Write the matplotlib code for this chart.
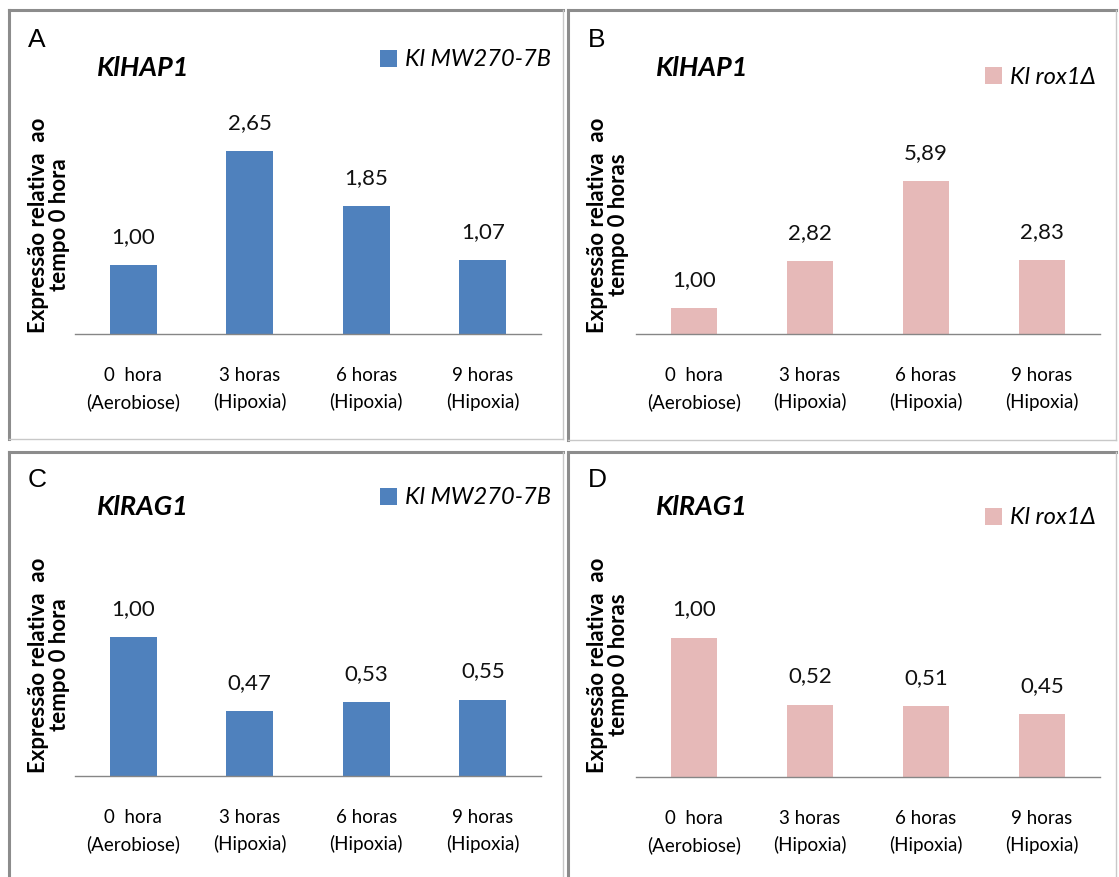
import matplotlib
matplotlib.use("Agg")
import matplotlib.pyplot as plt
from matplotlib.lines import Line2D

W, H = 1119, 877

categories = ["0  hora\n(Aerobiose)", "3 horas\n(Hipoxia)", "6 horas\n(Hipoxia)", "9 horas\n(Hipoxia)"]
hap1_wt = [1.00, 2.65, 1.85, 1.07]
hap1_rox = [1.00, 2.82, 5.89, 2.83]
rag1_wt = [1.00, 0.47, 0.53, 0.55]
rag1_rox = [1.00, 0.52, 0.51, 0.45]

letters = ["A", "B", "C", "D"]
genes = ["KlHAP1", "KlHAP1", "KlRAG1", "KlRAG1"]
strains = ["Kl MW270-7B", "Kl rox1Δ", "Kl MW270-7B", "Kl rox1Δ"]
ylabels = ["Expressão relativa  ao\ntempo 0 hora", "Expressão relativa  ao\ntempo 0 horas",
           "Expressão relativa  ao\ntempo 0 hora", "Expressão relativa  ao\ntempo 0 horas"]
blue = "#4F81BD"
pink = "#E6B9B8"

FONT = "Lato"
fig = plt.figure(figsize=(W / 100, H / 100), dpi=100)

def fx(x):
    return x / W

def fy(y):
    return 1 - y / H

# panel frames (left, top, right, bottom) in px
frames = [(9, 10, 563, 439), (568, 10, 1116, 440), (9, 452, 563, 880), (568, 452, 1116, 880)]
for (l, t, r, b) in frames:
    fig.add_artist(Line2D([fx(l), fx(l)], [fy(t), fy(b)], color="#8c8c8c", lw=2.2, transform=fig.transFigure))
    fig.add_artist(Line2D([fx(l), fx(r)], [fy(t), fy(t)], color="#8c8c8c", lw=2.2, transform=fig.transFigure))
    fig.add_artist(Line2D([fx(r), fx(r)], [fy(t), fy(b)], color="#c8c8c8", lw=1.0, transform=fig.transFigure))
    fig.add_artist(Line2D([fx(l), fx(r)], [fy(b), fy(b)], color="#c8c8c8", lw=1.0, transform=fig.transFigure))

panels = [
    dict(data=hap1_wt, color=blue, ax=(75, 541, 334, 100), ymax=3.39,
         letter=(28, 40), gene=(97, 68), leg=(380, 60), ylab=(49, 225)),
    dict(data=hap1_rox, color=pink, ax=(636, 1100, 334, 100), ymax=9.0,
         letter=(588, 40), gene=(656, 68), leg=(985, 77), ylab=(608, 225)),
    dict(data=rag1_wt, color=blue, ax=(75, 541, 776, 540), ymax=1.70,
         letter=(28, 480), gene=(97, 507), leg=(380, 498), ylab=(49, 665)),
    dict(data=rag1_rox, color=pink, ax=(636, 1100, 777, 540), ymax=1.70,
         letter=(588, 480), gene=(656, 507), leg=(985, 518), ylab=(608, 665)),
]

for i, p in enumerate(panels):
    x0, x1, yb, yt = p["ax"]
    ax = fig.add_axes([fx(x0), fy(yb), fx(x1) - fx(x0), (yb - yt) / H])
    xs = list(range(len(categories)))
    bars = ax.bar(xs, p["data"], width=0.4, color=p["color"], label=strains[i])
    ax.set_xlim(-0.5, len(categories) - 0.5)
    ax.set_ylim(0, p["ymax"])
    for s in ["top", "right", "left"]:
        ax.spines[s].set_visible(False)
    ax.spines["bottom"].set_color("#868686")
    ax.spines["bottom"].set_linewidth(1.0)
    ax.set_yticks([])
    ax.set_xticks(xs)
    ax.set_xticklabels(categories, fontsize=13.5, family=FONT, linespacing=1.6)
    ax.tick_params(axis="x", length=0, pad=24)
    for b, v in zip(bars, p["data"]):
        ax.annotate(f"{v:.2f}".replace(".", ","), (b.get_x() + b.get_width() / 2, v),
                    xytext=(0, 13), textcoords="offset points", ha="center", va="bottom",
                    fontsize=16, family=FONT, color="#111111")
    lx, ly = p["letter"]
    fig.text(fx(lx), fy(ly), letters[i], fontsize=19, family="Liberation Sans", ha="left", va="center")
    gx, gy = p["gene"]
    fig.text(fx(gx), fy(gy), genes[i], fontsize=19.5, family=FONT, weight="bold", style="italic",
             ha="left", va="center")
    yx, yy = p["ylab"]
    fig.text(fx(yx), fy(yy), ylabels[i], fontsize=16, family=FONT, weight="bold", rotation=90,
             ha="center", va="center", linespacing=0.95, multialignment="center")
    lgx, lgy = p["leg"]
    ax.legend(loc="center left", bbox_to_anchor=(fx(lgx), fy(lgy)), bbox_transform=fig.transFigure,
              frameon=False, handlelength=0.7, handleheight=0.7, handletextpad=0.35,
              borderpad=0, borderaxespad=0,
              prop=dict(family=FONT, style="italic", size=17))

fig.savefig("out.png", dpi=100)
